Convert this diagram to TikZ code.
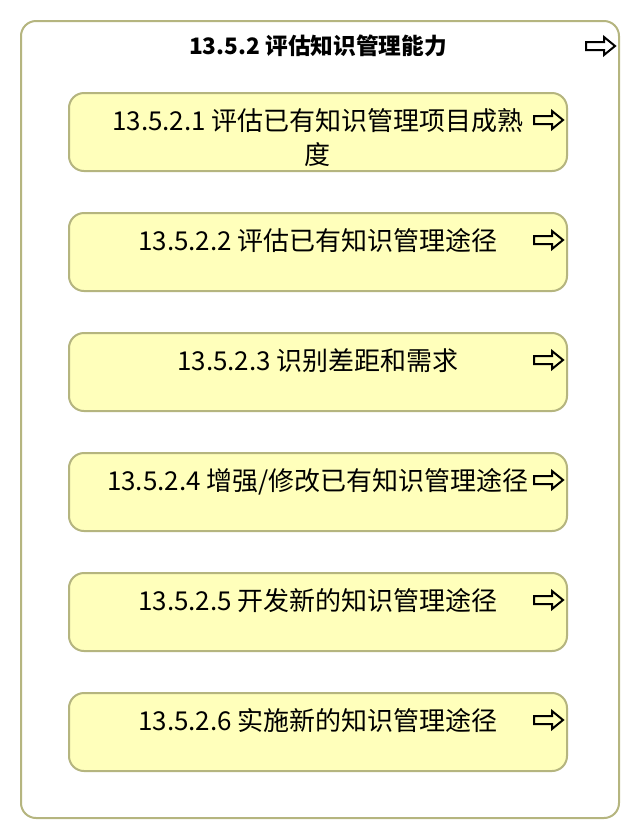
\documentclass[tikz,border=0pt]{standalone}
\usepackage{fontspec}
\setmainfont{Noto Sans CJK SC}
\definecolor{taskfill}{HTML}{FFFFBB}
\definecolor{taskline}{HTML}{B5B57F}
% hollow "go to" arrow, left end at #1
\newcommand{\gotoarrow}[1]{%
	\draw[line width=1.5pt,line join=miter]
	(#1) ++(0,-4) -- ++(18,0) -- ++(0,-5) -- ++(11,9) -- ++(-11,9)
	-- ++(0,-5) -- ++(-18,0) -- cycle;}

\begin{document}
\begin{tikzpicture}[x=0.75pt,y=-0.75pt,
	panel/.style={draw=taskline,line width=1.5pt,rounded corners=11.25pt,
		fill=white,minimum width=448.5pt,minimum height=597.75pt,inner sep=0pt},
	taskbox/.style={draw=taskline,line width=1.5pt,rounded corners=11.25pt,
		fill=taskfill,minimum width=373.5pt,minimum height=58.5pt,inner sep=0pt},
	tasktext/.style={inner sep=0pt,align=center,anchor=base,
		font=\fontsize{19.5pt}{25.5pt}\selectfont}]
\useasboundingbox (0,0) rectangle (640,840);
%========================================
% Outer panel: 13.5.2
%========================================
\node[panel] (panel) at (320,419.5) {};
\node[inner sep=0pt,anchor=base,font=\bfseries\fontsize{17pt}{21pt}\selectfont]
(title) at (318,54) {13.5.2 评估知识管理能力};
\coordinate (a0) at ([shift={(-34,26)}]panel.north east);
\gotoarrow{a0}
%========================================
% Sub-tasks 13.5.2.1 -- 13.5.2.6
%========================================
% \n = number of extra text lines
\foreach \i/\n/\txt [evaluate=\i as \top using 93+120*(\i-1)] in {%
	1/1/{13.5.2.1 评估已有知识管理项目成熟\\度},
	2/0/{13.5.2.2 评估已有知识管理途径},
	3/0/{13.5.2.3 识别差距和需求},
	4/0/{13.5.2.4 增强/修改已有知识管理途径},
	5/0/{13.5.2.5 开发新的知识管理途径},
	6/0/{13.5.2.6 实施新的知识管理途径}}{
	\node[taskbox] (t\i) at (318,\top+39) {};
	\node[tasktext] (l\i) at (318,\top+37.5+34*\n) {\txt};
	\coordinate (a\i) at ([shift={(-34,28)}]t\i.north east);
	\gotoarrow{a\i}
}
\end{tikzpicture}
\end{document}
